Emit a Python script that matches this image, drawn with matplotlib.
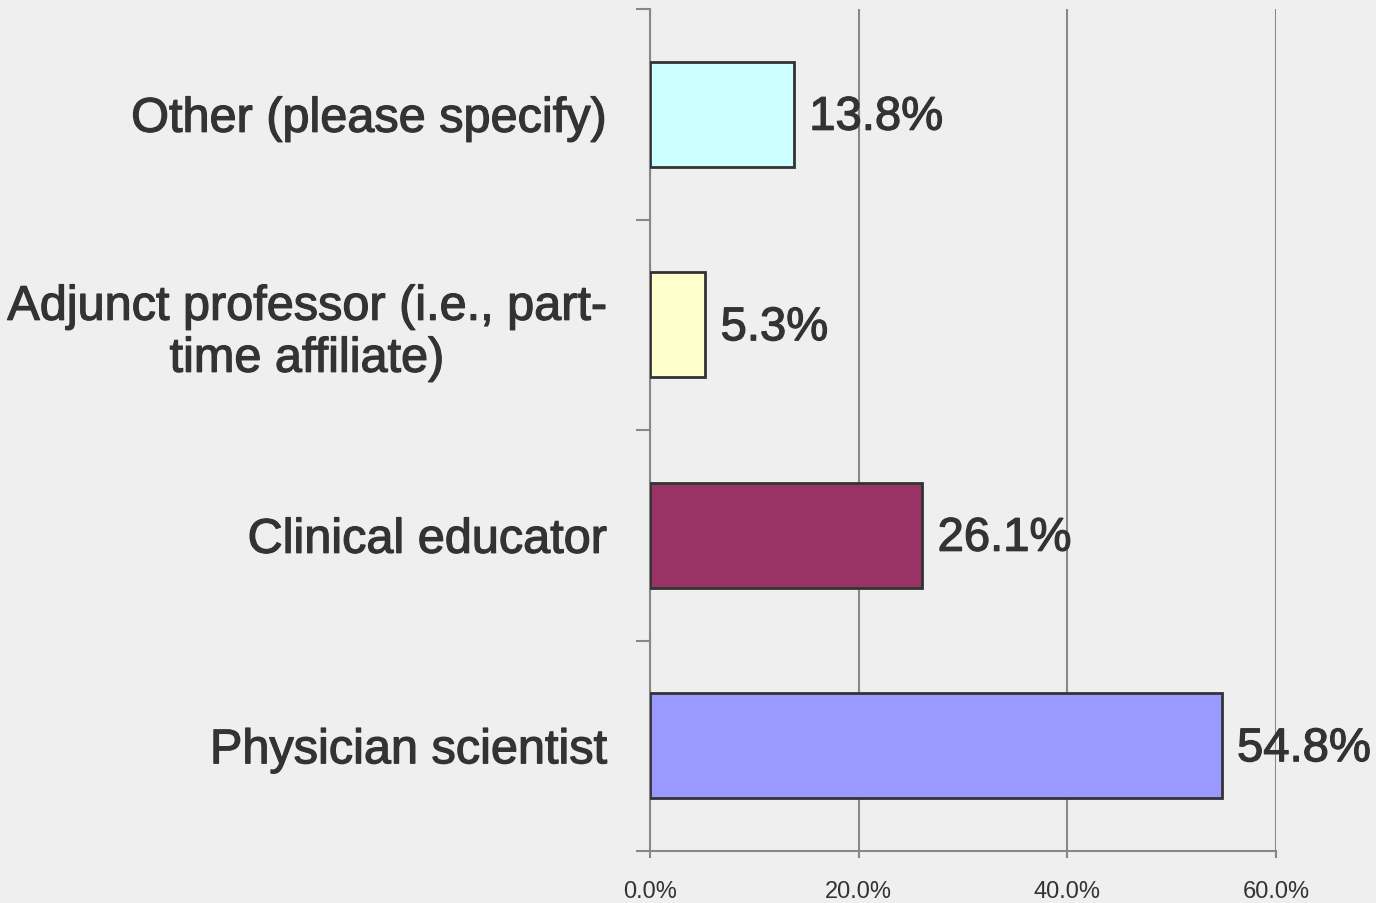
import matplotlib
matplotlib.use("Agg")
import matplotlib.pyplot as plt
import matplotlib.patheffects as pe
from matplotlib.ticker import FuncFormatter

categories = ["Physician scientist", "Clinical educator",
              "Adjunct professor (i.e., part-\ntime affiliate)", "Other (please specify)"]
values = [54.8, 26.1, 5.3, 13.8]
colors = ["#9999ff", "#993366", "#ffffcc", "#ccffff"]
xticks = [0, 20, 40, 60]

plt.rcParams['font.family'] = ['Liberation Sans', 'DejaVu Sans']
bg = "#efefef"
txt = "#333333"
gray = "#888888"
heavy = [pe.withStroke(linewidth=0.9, foreground=txt)]

fig = plt.figure(figsize=(13.76, 9.04), dpi=100, facecolor=bg)
ax = fig.add_axes([650/1376, 1 - 852/904, (1276 - 650)/1376, (852 - 10)/904])
ax.set_facecolor(bg)

y = range(len(categories))
bars = ax.barh(y, values, height=0.5, color=colors, edgecolor="#333333", linewidth=2, zorder=3)
for b, v in zip(bars, values):
    ax.annotate(f"{v:.1f}%", (b.get_width(), b.get_y() + b.get_height()/2),
                xytext=(11, -2.5), textcoords="offset points",
                va="center", ha="left", fontsize=34, color=txt, zorder=4,
                path_effects=heavy)

ax.set_xlim(0, 60)
ax.set_ylim(-0.5, 3.5)
ax.set_xticks(xticks)
ax.xaxis.set_major_formatter(FuncFormatter(lambda v, p: f"{v:.1f}%"))
ax.set_yticks([-0.5, 0.5, 1.5, 2.5, 3.5])
ax.set_yticklabels([])
ax.set_yticks(list(y), minor=True)
ax.set_yticklabels(categories, minor=True, fontsize=35, color=txt, ha="right",
                   multialignment="center")
for t in ax.get_yticklabels(minor=True):
    t.set_path_effects(heavy)
ax.tick_params(axis="y", which="minor", length=0, pad=31)
ax.tick_params(axis="y", which="major", length=10, width=1.5, color=gray, direction="out")
ax.tick_params(axis="x", length=5, width=1.5, color=gray, labelsize=17, labelcolor=txt, pad=16)
for t in ax.get_xticklabels():
    t.set_family(['Liberation Sans Narrow', 'Liberation Sans'])
ax.grid(axis="x", color=gray, linewidth=1.5, zorder=0)
for s in ["top", "right"]:
    ax.spines[s].set_visible(False)
for s in ["left", "bottom"]:
    ax.spines[s].set_color(gray)
    ax.spines[s].set_linewidth(1.5)

fig.savefig("out.png", dpi=100, facecolor=bg)
